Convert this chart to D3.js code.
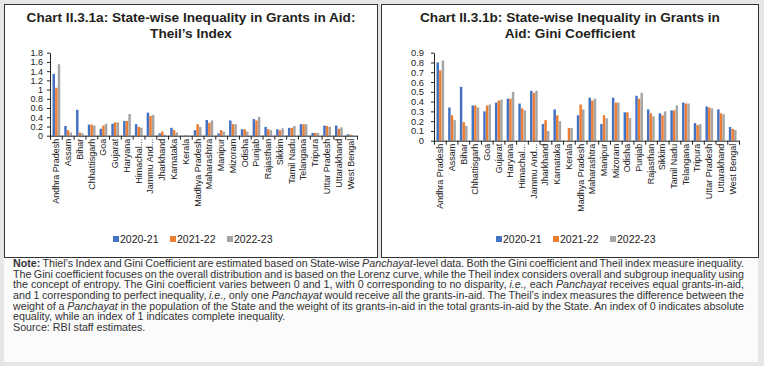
<!DOCTYPE html>
<html>
<head>
<meta charset="utf-8">
<script src="https://cdn.jsdelivr.net/npm/d3@7"></script>
<style>
  body { margin: 0; background: #e6e6e6; }
  svg { display: block; font-family: "Liberation Sans", Arial, sans-serif; }
</style>
</head>
<body>
<div id="chart"></div>
<script>
// States on the x axis (same for both charts)
const states = ["Andhra Pradesh","Assam","Bihar","Chhattisgarh","Goa","Gujarat","Haryana",
  "Himachal...","Jammu And...","Jharkhand","Karnataka","Kerala","Madhya Pradesh","Maharashtra",
  "Manipur","Mizoram","Odisha","Punjab","Rajasthan","Sikkim","Tamil Nadu","Telangana","Tripura",
  "Uttar Pradesh","Uttarakhand","West Bengal"]

const years = ["2020-21","2021-22","2022-23"]

// Theil's index
const theil2021 = [1.34,0.21,0.56,0.24,0.15,0.26,0.32,0.25,0.50,0.05,0.17,0.005,0.12,0.34,0.05,0.33,0.14,0.36,0.19,0.14,0.17,0.25,0.06,0.22,0.22,0.03]
const theil2122 = [1.04,0.12,0.07,0.24,0.22,0.29,0.32,0.19,0.43,0.09,0.12,0.01,0.25,0.28,0.12,0.25,0.14,0.33,0.14,0.12,0.17,0.25,0.06,0.21,0.15,0.02]
const theil2223 = [1.55,0.07,0.05,0.22,0.26,0.29,0.47,0.17,0.45,0.02,0.07,0.01,0.19,0.33,0.09,0.25,0.09,0.41,0.12,0.16,0.21,0.25,0.06,0.19,0.18,0.01]

// Gini coefficient
const gini2021 = [0.80,0.34,0.55,0.36,0.30,0.39,0.43,0.38,0.51,0.17,0.32,0,0.26,0.44,0.17,0.44,0.29,0.46,0.32,0.28,0.31,0.39,0.18,0.35,0.32,0.14]
const gini2122 = [0.72,0.26,0.19,0.36,0.36,0.41,0.43,0.33,0.49,0.21,0.26,0.13,0.37,0.41,0.26,0.39,0.29,0.43,0.28,0.26,0.31,0.38,0.16,0.34,0.28,0.12]
const gini2223 = [0.82,0.21,0.15,0.34,0.37,0.42,0.50,0.31,0.51,0.10,0.20,0.13,0.32,0.43,0.23,0.39,0.23,0.49,0.25,0.30,0.36,0.38,0.17,0.33,0.27,0.11]

const theilTicks = [0,0.2,0.4,0.6,0.8,1,1.2,1.4,1.6,1.8]
const giniTicks = [0,0.1,0.2,0.3,0.4,0.5,0.6,0.7,0.8,0.9]

const noteLines = [
  "**Note:** Thiel’s Index and Gini Coefficient are estimated based on State-wise _Panchayat_-level data. Both the Gini coefficient and Theil index measure inequality.",
  "The Gini coefficient focuses on the overall distribution and is based on the Lorenz curve, while the Theil index considers overall and subgroup inequality using",
  "the concept of entropy. The Gini coefficient varies between 0 and 1, with 0 corresponding to no disparity, _i.e.,_ each _Panchayat_ receives equal grants-in-aid,",
  "and 1 corresponding to perfect inequality, _i.e.,_ only one _Panchayat_ would receive all the grants-in-aid. The Theil’s index measures the difference between the",
  "weight of a _Panchayat_ in the population of the State and the weight of its grants-in-aid in the total grants-in-aid by the State. An index of 0 indicates absolute",
  "equality, while an index of 1 indicates complete inequality.",
  "Source: RBI staff estimates."
]

const colors = ["#4472c4", "#ed7d31", "#a5a5a5"]

const svg = d3.select("#chart").append("svg")
  .attr("width", 764)
  .attr("height", 366)

// panel boxes
svg.append("rect").attr("x", 4.5).attr("y", 4.5).attr("width", 373).attr("height", 253)
  .attr("fill", "#fff").attr("stroke", "#333")
svg.append("rect").attr("x", 381.5).attr("y", 4.5).attr("width", 377).attr("height", 253)
  .attr("fill", "#fff").attr("stroke", "#333")
svg.append("rect").attr("x", 4).attr("y", 258).attr("width", 754).attr("height", 104)
  .attr("fill", "#fbfbfb")

function drawChart(opt) {
  const g = svg.append("g")

  // title
  const title = g.append("text")
    .attr("x", opt.cx)
    .attr("text-anchor", "middle")
    .attr("font-size", "13.6px")
    .attr("font-weight", "bold")
    .attr("fill", "#231f20")
  opt.title.forEach((t, i) => {
    title.append("tspan").attr("x", opt.cx).attr("y", 22 + i * 16).text(t)
  })

  const x0 = d3.scaleBand()
    .domain(states)
    .range([opt.left, opt.right])
    .paddingInner(0.32)
    .paddingOuter(0.2)

  const x1 = d3.scaleBand()
    .domain(years)
    .range([0, x0.bandwidth()])
    .padding(0.05)

  const y = d3.scaleLinear()
    .domain([0, opt.max])
    .range([opt.bottom, opt.top])

  const rows = states.map((s, i) => ({ state: s, vals: opt.series.map(a => a[i]) }))

  g.selectAll(".grp")
    .data(rows)
    .join("g")
    .attr("transform", d => `translate(${x0(d.state)},0)`)
    .selectAll("rect")
    .data(d => d.vals.map((v, j) => ({ year: years[j], v: v, c: colors[j] })))
    .join("rect")
    .attr("x", d => x1(d.year))
    .attr("width", x1.bandwidth())
    .attr("y", d => y(d.v))
    .attr("height", d => y(0) - y(d.v))
    .attr("fill", d => d.c)

  // y axis
  const yAxis = g.append("g")
    .attr("transform", `translate(${opt.left},0)`)
    .call(d3.axisLeft(y).tickValues(opt.ticks).tickFormat(d3.format("~g"))
      .tickSize(3).tickSizeOuter(0).tickPadding(opt.yPad))
  yAxis.selectAll("text").attr("font-size", opt.yFont).attr("fill", "#222").attr("font-family", null)
  yAxis.selectAll("line,path").attr("stroke", "#222")

  // x axis: boundary ticks between states
  const xb = d3.scaleLinear().domain([0, states.length]).range([opt.left, opt.right])
  const bAxis = g.append("g")
    .attr("transform", `translate(0,${opt.bottom})`)
    .call(d3.axisBottom(xb).tickValues(d3.range(states.length + 1)).tickFormat("")
      .tickSize(4).tickSizeOuter(0))
  bAxis.selectAll("line,path").attr("stroke", "#222")

  // x labels
  const xAxis = g.append("g")
    .attr("transform", `translate(0,${opt.bottom})`)
    .call(d3.axisBottom(x0).tickSize(0).tickPadding(0))
  xAxis.select(".domain").remove()
  xAxis.selectAll("text")
    .attr("font-size", "9px")
    .attr("font-family", null)
    .attr("fill", "#222")
    .attr("transform", "rotate(-90)")
    .attr("text-anchor", "end")
    .attr("x", -3)
    .attr("y", 0)
    .attr("dy", "0.32em")

  // legend
  const leg = g.append("g")
    .selectAll("g")
    .data(years)
    .join("g")
    .attr("transform", (d, i) => `translate(${opt.legX + i * 57},239)`)
  leg.append("rect").attr("x", 0).attr("y", -3).attr("width", 6).attr("height", 6)
    .attr("fill", (d, i) => colors[i])
  leg.append("text").attr("x", 7).attr("y", 0).attr("dy", "0.35em")
    .attr("font-size", "10.5px").attr("fill", "#222").text(d => d)
}

drawChart({
  cx: 191,
  title: ["Chart II.3.1a: State-wise Inequality in Grants in Aid:", "Theil’s Index"],
  left: 50, right: 357, top: 52.7, bottom: 135.7, max: 1.8,
  ticks: theilTicks, yPad: 4, yFont: "9px",
  series: [theil2021, theil2122, theil2223],
  legX: 113
})

drawChart({
  cx: 570,
  title: ["Chart II.3.1b: State-wise Inequality in Grants in", "Aid: Gini Coefficient"],
  left: 434, right: 739, top: 52.7, bottom: 140.7, max: 0.9,
  ticks: giniTicks, yPad: 7, yFont: "9.4px",
  series: [gini2021, gini2122, gini2223],
  legX: 496
})

// note block, justified line by line
const noteWidth = 731
noteLines.forEach((line, i) => {
  const t = svg.append("text")
    .attr("x", 13)
    .attr("y", 267 + i * 10.67)
    .attr("font-size", "10.7px")
    .attr("fill", "#333")
  line.split(/(\*\*[^*]+\*\*|_[^_]+_)/).filter(s => s.length).forEach(part => {
    const ts = t.append("tspan")
    if (part.startsWith("**")) ts.attr("font-weight", "bold").text(part.slice(2, -2))
    else if (part.startsWith("_")) ts.attr("font-style", "italic").text(part.slice(1, -1))
    else ts.text(part)
  })
  if (i < 5) {
    const len = t.node().getComputedTextLength()
    const spaces = (line.match(/ /g) || []).length
    t.attr("word-spacing", (noteWidth - len) / spaces)
  }
})
</script>
</body>
</html>
